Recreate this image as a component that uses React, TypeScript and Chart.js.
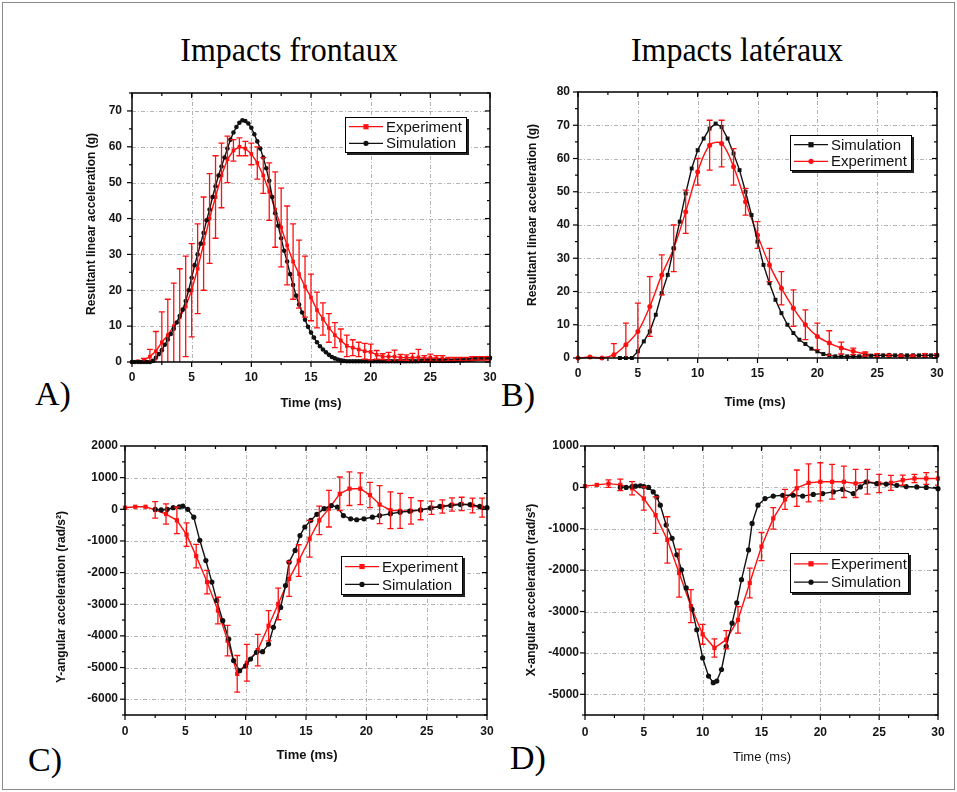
import React, { useEffect, useRef } from "react";
import { Chart, registerables } from "chart.js";
Chart.register(...registerables);

// ---------------- DATA ----------------
const X_TICKS = [0, 5, 10, 15, 20, 25, 30];
const X_MINOR = [2.5, 7.5, 12.5, 17.5, 22.5, 27.5];

const A_Y_TICKS = [0, 10, 20, 30, 40, 50, 60, 70];
const A_Y_MINOR = [5, 15, 25, 35, 45, 55, 65, 75];
const B_Y_TICKS = [0, 10, 20, 30, 40, 50, 60, 70, 80];
const B_Y_MINOR = [5, 15, 25, 35, 45, 55, 65, 75];
const C_Y_TICKS = [-6000, -5000, -4000, -3000, -2000, -1000, 0, 1000, 2000];
const C_Y_MINOR = [-6500, -5500, -4500, -3500, -2500, -1500, -500, 500, 1500];
const D_Y_TICKS = [-5000, -4000, -3000, -2000, -1000, 0, 1000];
const D_Y_MINOR = [-5500, -4500, -3500, -2500, -1500, -500, 500];

// Panel A – frontal, resultant linear acceleration (g)
const SIM_A_T = [0,0.25,0.5,0.75,1,1.25,1.5,1.75,2,2.25,2.5,2.75,3,3.25,3.5,3.75,4,4.25,4.5,4.75,5,5.25,5.5,5.75,6,6.25,6.5,6.75,7,7.25,7.5,7.75,8,8.25,8.5,8.75,9,9.25,9.5,9.75,10,10.25,10.5,10.75,11,11.25,11.5,11.75,12,12.25,12.5,12.75,13,13.25,13.5,13.75,14,14.25,14.5,14.75,15,15.25,15.5,15.75,16,16.25,16.5,16.75,17,17.25,17.5,17.75,18,18.25,18.5,18.75,19,19.25,19.5,19.75,20,20.25,20.5,20.75,21,21.25,21.5,21.75,22,22.25,22.5,22.75,23,23.25,23.5,23.75,24,24.25,24.5,24.75,25,25.25,25.5,25.75,26,26.25,26.5,26.75,27,27.25,27.5,27.75,28,28.25,28.5,28.75,29,29.25,29.5,29.75,30];
const SIM_A_V = [0,0,0,0,0,0,0,0.3,
  1.2,2.2,3.3,4.8,6.3,7.8,9.3,11,12.8,14.6,
  17,20,23.5,27,30,33,36,39.5,42.5,46,
  49,52,54.5,57,59.5,62,64,65.5,66.7,67.4,
  67.2,66.5,65.3,63.5,61.5,59.5,57,54,50.5,46,
  41.5,38,34.5,31,28,24.5,21.5,18.5,16,13.8,
  11.8,9.8,8.2,6.8,5.5,4.4,3.5,2.7,2,1.4,
  1,0.7,0.5,0.3,0.2,
  0.2,0.2,0.2,0.2,0.2,0.2,0.2,0.2,0.2,0.2,0.2,0.2,0.2,0.2,0.2,0.2,0.2,0.2,0.2,0.2,0.2,0.2,0.2,0.2,
  0.3,0.3,0.3,0.3,0.3,0.3,0.3,0.3,0.3,0.3,0.3,0.3,
  0.4,0.5,0.5,0.6,0.6,0.7,0.8,0.9,1.0,1.0,1.1,1.2];
const EXP_A_T = [0,0.5,1,1.5,2,2.5,3,3.5,4,4.5,5,5.5,6,6.5,7,7.5,8,8.5,9,9.5,10,10.5,11,11.5,12,12.5,13,13.5,14,14.5,15,15.5,16,16.5,17,17.5,18,18.5,19,19.5,20,20.5,21,21.5,22,22.5,23,23.5,24,24.5,25,25.5,26,26.5,27,27.5,28,28.5,29,29.5,30];
const EXP_A_V = [0,0.2,0.5,1.5,3,5.5,7.5,10,12.5,15.5,
  20,26,33,40,46,52,56.5,59,60,59.5,
  58,55.5,52,47.5,42.5,37.5,32.5,28,24.5,21,
  18,14.5,12,9.5,7.5,6,4.5,4,3.5,3,
  2.8,2,1.5,1.5,1.5,1.3,1.2,1.2,1.3,1,
  1.2,1,1,0.8,0.8,0.8,0.8,1,1,1,1];
const EXP_A_E = [0,0,0.5,2,5.5,8.5,10,12,13.5,14,
  13,12.5,13,12.5,11.5,9,6.5,3,2.5,2,
  3,4.5,5,8,10.5,11,11,10.5,9.5,8.5,
  6.5,5,4.5,4,3.5,3.2,3,2.2,2,2.2,
  2.2,1.2,0.8,1.2,1.8,0.8,0.8,1.2,2.2,0.8,
  1,0.8,0.8,0.5,0.5,0.5,0.5,0.5,0.5,0.5,0.5];

// Panel B – lateral, resultant linear acceleration (g)
const SIM_B_T = [3.5,4,4.5,5,5.5,6,6.5,7,7.5,8,8.5,9,9.5,10,10.5,11,11.5,12,12.5,13,13.5,14,14.5,15,15.5,16,16.5,17,17.5,18,18.5,19,19.5,20,20.5,21,21.5,22,22.5,23,23.5,24,24.5,25,25.5,26,26.5,27,27.5,28,28.5,29,29.5,30];
const SIM_B_V = [0,0,0,2,5,8,13,19.5,25,33,
  41,49.5,57,62.5,66,69,70.5,69.5,66,61.5,
  56.5,50,43,35,28,22.5,17.5,13.5,10,7.5,
  5.5,4.2,2.8,2,1.2,0.8,0.5,0.5,0.5,0.5,
  0.5,0.6,0.7,0.8,0.8,0.8,0.8,0.8,0.8,0.8,
  0.8,0.8,0.8,0.8];
const EXP_B_T = [0,1,2,3,4,5,6,7,8,9,10,11,12,13,14,15,16,17,18,19,20,21,22,23,24,25,26,27,28,29,30];
const EXP_B_V = [0,0.3,0,1,4,8,15.5,25,33,44,
  56,64,64.5,57.5,47,37,28,21,15,10,
  6.5,4.5,3,2,1.2,0.8,0.8,0.6,0.6,0.8,0.8];
const EXP_B_E = [0,0,0,3.3,6.5,8.5,9,6,7,6.5,
  4,7.5,7,5.5,4,4,5,5,5.5,4.5,
  4,3.7,1.8,1,0.6,0.5,0.3,0.3,0.3,0.5,0.5];

// Panel C – frontal, Y-angular acceleration (rad/s²)
const EXP_C_T = [0,0.85,1.7,2.5,3.4,4.3,5.1,5.9,6.8,7.7,8.5,9.3,10.1,11,11.9,12.7,13.6,14.4,15.3,16.1,16.9,17.8,18.6,19.5,20.3,21.1,22,22.8,23.7,24.5,25.4,26.3,27.1,27.9,28.8,29.6];
const EXP_C_V = [50,80,80,-20,-150,-350,-800,-1480,-2300,-3200,
  -4150,-5200,-4850,-4450,-3680,-2990,-2200,-1620,-930,-350,
  20,490,650,650,450,150,-30,-50,-50,-30,
  50,90,150,170,120,50];
const EXP_C_E = [0,0,0,260,320,420,370,370,370,420,
  480,580,580,500,480,500,550,500,580,450,
  580,530,530,500,400,600,580,550,420,300,
  210,210,210,210,230,300];
const SIM_C_T = [2.5,3,3.5,4,4.5,4.8,5.2,5.7,6.2,6.7,7.2,7.6,8.1,8.6,9,9.5,10,10.4,10.9,11.4,11.9,12.3,12.9,13.3,13.6,14.1,14.5,14.9,15.4,15.9,16.5,17.1,17.6,18.1,18.7,19.2,19.8,20.5,21.1,22,22.8,23.6,24.5,25.3,26.1,27,27.8,28.6,29.4,30];
const SIM_C_V = [0,-20,0,50,80,100,0,-250,-980,-1620,
  -2300,-2880,-3520,-4100,-4780,-5100,-4950,-4730,-4520,-4500,
  -4260,-3730,-3100,-2410,-1670,-1300,-830,-560,-350,-160,
  20,120,70,-200,-300,-330,-300,-250,-200,-140,
  -90,-60,-20,40,90,120,150,150,90,50];

// Panel D – lateral, X-angular acceleration (rad/s²)
const EXP_D_T = [0,1,2,3,4,5,6,7,8,9,10,11,12,13,14,15,16,17,18,19,20,21,22,23,24,25,26,27,28,29,30];
const EXP_D_V = [30,60,90,60,-20,-270,-670,-1270,-2070,-2870,
  -3550,-3880,-3680,-3200,-2310,-1430,-750,-290,-20,110,
  135,135,135,95,135,95,110,175,215,215,215];
const EXP_D_E = [0,0,90,140,160,280,440,560,580,400,
  240,220,220,320,360,340,260,240,440,460,
  460,420,380,340,300,220,180,120,100,140,160];
const SIM_D_T = [3,3.5,4,4.3,4.7,5,5.4,5.8,6.1,6.4,6.9,7.4,7.8,8.2,8.6,9.1,9.5,10,10.5,10.9,11.2,11.6,12,12.5,12.9,13.3,13.9,14.2,14.7,15.3,16,16.8,17.7,18.5,19.4,20.2,21.1,21.9,22.8,23.4,23.9,24.8,25.6,26.5,27.3,28.2,29,30];
const SIM_D_V = [0,0,20,30,40,20,0,-110,-230,-430,
  -910,-1230,-1630,-1990,-2430,-2950,-3440,-4120,-4560,-4720,
  -4680,-4400,-3840,-3280,-2790,-2230,-1510,-870,-430,-270,
  -210,-190,-190,-210,-170,-150,-110,-50,-150,10,
  130,90,80,50,20,10,0,-30];

const TITLE_LEFT = "Impacts frontaux";
const TITLE_RIGHT = "Impacts latéraux";
const X_TITLE = "Time (ms)";
const Y_TITLE_LIN = "Resultant linear acceleration (g)";
const Y_TITLE_C = "Y-angular acceleration (rad/s²)";
const Y_TITLE_D = "X-angular acceleration (rad/s²)";
const EXP = "Experiment";
const SIM = "Simulation";

// ---------------- LAYOUT / STYLE ----------------
const W = 957;
const H = 792;
const YW = 40;
const XH = 30;
const SANS = "'Liberation Sans', Arial, Helvetica, sans-serif";
const SERIF = "'Liberation Serif', 'Times New Roman', Times, serif";
const RED = "#ff1010";
const BLACK = "#111111";

type Series = {
  label: string; t: number[]; v: number[]; err?: number[];
  color: string; style: string; radius: number; tension?: number; order: number;
};
type Panel = {
  key: string;
  area: { l: number; t: number; r: number; b: number };
  yMin: number; yMax: number; yTicks: number[]; yMinor: number[];
  yTitle: string; yTitlePos: [number, number]; xTitlePos: [number, number];
  xTitleBold: boolean;
  yPad: number; xPad: number;
  legend: { x: number; y: number; w: number; h: number; rows: number[] };
  series: Series[];
};

const PANELS: Panel[] = [
  {
    key: "A", area: { l: 132, t: 93, r: 490, b: 362 },
    yMin: 0, yMax: 75, yTicks: A_Y_TICKS, yMinor: A_Y_MINOR,
    yTitle: Y_TITLE_LIN, yTitlePos: [92, 224], xTitlePos: [311, 403], xTitleBold: true, yPad: 10, xPad: 8,
    legend: { x: 345, y: 117, w: 122, h: 36, rows: [0, 1] },
    series: [
      { label: EXP, t: EXP_A_T, v: EXP_A_V, err: EXP_A_E, color: RED, style: "rect", radius: 2.6, order: 1 },
      { label: SIM, t: SIM_A_T, v: SIM_A_V, color: BLACK, style: "circle", radius: 2.3, order: 0 },
    ],
  },
  {
    key: "B", area: { l: 578, t: 92, r: 937, b: 358 },
    yMin: 0, yMax: 80, yTicks: B_Y_TICKS, yMinor: B_Y_MINOR,
    yTitle: Y_TITLE_LIN, yTitlePos: [533, 215], xTitlePos: [755, 402], xTitleBold: true, yPad: 8, xPad: 8,
    legend: { x: 790, y: 135, w: 122, h: 36, rows: [0, 1] },
    series: [
      { label: SIM, t: SIM_B_T, v: SIM_B_V, color: BLACK, style: "rect", radius: 2.8, order: 0 },
      { label: EXP, t: EXP_B_T, v: EXP_B_V, err: EXP_B_E, color: RED, style: "circle", radius: 2.5, tension: 0.35, order: 1 },
    ],
  },
  {
    key: "C", area: { l: 125, t: 446, r: 487, b: 715 },
    yMin: -6500, yMax: 2000, yTicks: C_Y_TICKS, yMinor: C_Y_MINOR,
    yTitle: Y_TITLE_C, yTitlePos: [62, 597], xTitlePos: [307, 755], xTitleBold: true, yPad: 7, xPad: 9,
    legend: { x: 341, y: 556, w: 122, h: 39, rows: [0, 1] },
    series: [
      { label: EXP, t: EXP_C_T, v: EXP_C_V, err: EXP_C_E, color: RED, style: "rect", radius: 3, order: 1 },
      { label: SIM, t: SIM_C_T, v: SIM_C_V, color: BLACK, style: "circle", radius: 2.6, order: 0 },
    ],
  },
  {
    key: "D", area: { l: 585, t: 446, r: 938, b: 715 },
    yMin: -5500, yMax: 1000, yTicks: D_Y_TICKS, yMinor: D_Y_MINOR,
    yTitle: Y_TITLE_D, yTitlePos: [532, 590], xTitlePos: [762, 757], xTitleBold: false, yPad: 6, xPad: 10,
    legend: { x: 790, y: 553, w: 119, h: 40, rows: [0, 1] },
    series: [
      { label: EXP, t: EXP_D_T, v: EXP_D_V, err: EXP_D_E, color: RED, style: "rect", radius: 3, order: 1 },
      { label: SIM, t: SIM_D_T, v: SIM_D_V, color: BLACK, style: "circle", radius: 2.6, order: 0 },
    ],
  },
];

// ---------------- PLUGIN ----------------
function drawMarker(ctx: CanvasRenderingContext2D, style: string, x: number, y: number, r: number, color: string) {
  ctx.fillStyle = color;
  ctx.beginPath();
  if (style === "rect") {
    ctx.rect(x - r, y - r, 2 * r, 2 * r);
  } else {
    ctx.arc(x, y, r, 0, Math.PI * 2);
  }
  ctx.fill();
}

const decoPlugin = {
  id: "deco",
  beforeDatasetsDraw(chart: any) {
    const p: Panel = chart.options.plugins.deco.panel;
    const { ctx, chartArea: a } = chart;
    const xs = chart.scales.x;
    const ys = chart.scales.y;
    ctx.save();
    ctx.strokeStyle = "#b4b4b4";
    ctx.lineWidth = 1;
    ctx.setLineDash([4, 2, 1, 2]);
    for (const v of X_TICKS) {
      const px = Math.round(xs.getPixelForValue(v)) + 0.5;
      if (px <= a.left + 2 || px >= a.right - 2) continue;
      ctx.beginPath(); ctx.moveTo(px, a.top); ctx.lineTo(px, a.bottom); ctx.stroke();
    }
    for (const v of p.yTicks) {
      const py = Math.round(ys.getPixelForValue(v)) + 0.5;
      if (py <= a.top + 2 || py >= a.bottom - 2) continue;
      ctx.beginPath(); ctx.moveTo(a.left, py); ctx.lineTo(a.right, py); ctx.stroke();
    }
    ctx.restore();
  },
  afterDatasetsDraw(chart: any) {
    const p: Panel = chart.options.plugins.deco.panel;
    const { ctx, chartArea: a } = chart;
    const xs = chart.scales.x;
    const ys = chart.scales.y;

    // error bars
    ctx.save();
    ctx.beginPath();
    ctx.rect(a.left, a.top - 3, a.right - a.left, a.bottom - a.top + 3);
    ctx.clip();
    chart.data.datasets.forEach((ds: any, i: number) => {
      if (!ds.errors) return;
      const meta = chart.getDatasetMeta(i);
      ctx.strokeStyle = ds.borderColor;
      ctx.lineWidth = 1.3;
      meta.data.forEach((pt: any, j: number) => {
        const e = ds.errors[j];
        if (!e) return;
        const v = ds.data[j].y;
        const yt = ys.getPixelForValue(v + e);
        const yb = ys.getPixelForValue(v - e);
        const x = pt.x;
        ctx.beginPath();
        ctx.moveTo(x, yt); ctx.lineTo(x, yb);
        ctx.moveTo(x - 3, yt); ctx.lineTo(x + 3, yt);
        ctx.moveTo(x - 3, yb); ctx.lineTo(x + 3, yb);
        ctx.stroke();
      });
    });
    ctx.restore();

    ctx.save();
    // frame
    ctx.strokeStyle = "#000";
    ctx.lineWidth = 1.5;
    ctx.strokeRect(a.left, a.top, a.right - a.left, a.bottom - a.top);
    // ticks
    ctx.lineWidth = 1.2;
    const tick = (x1: number, y1: number, x2: number, y2: number) => {
      ctx.beginPath(); ctx.moveTo(x1, y1); ctx.lineTo(x2, y2); ctx.stroke();
    };
    const xt = (vals: number[], len: number) => vals.forEach((v) => {
      const px = xs.getPixelForValue(v);
      tick(px, a.bottom, px, a.bottom + len);
      tick(px, a.top, px, a.top + len);
    });
    const yt = (vals: number[], len: number) => vals.forEach((v) => {
      const py = ys.getPixelForValue(v);
      tick(a.left, py, a.left - len, py);
      tick(a.right, py, a.right - len, py);
    });
    xt(X_TICKS, 5); xt(X_MINOR, 3);
    yt(p.yTicks, 5); yt(p.yMinor, 3);

    // axis titles
    ctx.fillStyle = "#111";
    ctx.textAlign = "center";
    ctx.textBaseline = "middle";
    ctx.font = `${p.xTitleBold ? "bold " : ""}13px ${SANS}`;
    ctx.fillText(X_TITLE, p.xTitlePos[0], p.xTitlePos[1]);
    ctx.save();
    ctx.translate(p.yTitlePos[0], p.yTitlePos[1]);
    ctx.rotate(-Math.PI / 2);
    ctx.font = `bold 12px ${SANS}`;
    ctx.fillText(p.yTitle, 0, 0);
    ctx.restore();

    // legend box
    const L = p.legend;
    ctx.fillStyle = "#222";
    ctx.fillRect(L.x + 2, L.y + 2, L.w, L.h);
    ctx.fillStyle = "#fff";
    ctx.fillRect(L.x, L.y, L.w, L.h);
    ctx.strokeStyle = "#000";
    ctx.lineWidth = 1;
    ctx.strokeRect(L.x + 0.5, L.y + 0.5, L.w - 1, L.h - 1);
    ctx.font = `15px ${SANS}`;
    ctx.textAlign = "left";
    ctx.textBaseline = "middle";
    L.rows.forEach((di, k) => {
      const ds = chart.data.datasets[di];
      const s = p.series[di];
      const cy = L.y + L.h * (k === 0 ? 0.27 : 0.73);
      ctx.strokeStyle = ds.borderColor;
      ctx.lineWidth = 1.2;
      ctx.beginPath(); ctx.moveTo(L.x + 4, cy); ctx.lineTo(L.x + 38, cy); ctx.stroke();
      drawMarker(ctx, s.style, L.x + 21, cy, 2.6, ds.borderColor);
      ctx.fillStyle = "#111";
      ctx.fillText(ds.label, L.x + 41, cy + 1);
    });
    ctx.restore();
  },
};

function buildConfig(p: Panel): any {
  const a = p.area;
  return {
    type: "line",
    data: {
      datasets: p.series.map((s) => ({
        label: s.label,
        data: s.t.map((x, i) => ({ x, y: s.v[i] })),
        errors: s.err,
        borderColor: s.color,
        backgroundColor: s.color,
        borderWidth: 1.4,
        pointStyle: s.style,
        pointRadius: s.radius,
        pointBorderWidth: 0,
        tension: s.tension || 0,
        order: s.order,
        clip: 6,
        fill: false,
      })),
    },
    options: {
      responsive: false,
      animation: false,
      events: [],
      layout: {
        padding: { left: a.l - YW, top: a.t, right: W - a.r, bottom: H - a.b - XH },
      },
      scales: {
        x: {
          type: "linear", position: "bottom", min: 0, max: 30,
          afterBuildTicks: (s: any) => { s.ticks = X_TICKS.map((v) => ({ value: v })); },
          afterFit: (s: any) => { s.height = XH; },
          grid: { display: false, drawTicks: false },
          border: { display: false },
          ticks: {
            padding: p.xPad, autoSkip: false, maxRotation: 0, color: "#151515",
            font: { family: SANS, size: 12, weight: "bold" },
            callback: (v: any) => String(v),
          },
        },
        y: {
          type: "linear", position: "left", min: p.yMin, max: p.yMax,
          afterBuildTicks: (s: any) => { s.ticks = p.yTicks.map((v) => ({ value: v })); },
          afterFit: (s: any) => { s.width = YW; },
          grid: { display: false, drawTicks: false },
          border: { display: false },
          ticks: {
            padding: p.yPad, autoSkip: false, color: "#151515",
            font: { family: SANS, size: 12, weight: "bold" },
            callback: (v: any) => String(v),
          },
        },
      },
      plugins: {
        legend: { display: false },
        tooltip: { enabled: false },
        deco: { panel: p },
      },
    },
    plugins: [decoPlugin],
  };
}

function PanelChart({ p }: { p: Panel }) {
  const ref = useRef<HTMLCanvasElement | null>(null);
  useEffect(() => {
    if (!ref.current) return;
    const chart = new Chart(ref.current, buildConfig(p));
    return () => chart.destroy();
  }, [p]);
  return (
    <canvas
      ref={ref}
      width={W}
      height={H}
      style={{ position: "absolute", left: 0, top: 0, width: W, height: H }}
    />
  );
}

const textStyle = (left: number, top: number, size: number): React.CSSProperties => ({
  position: "absolute", left, top, fontFamily: SERIF, fontSize: size, lineHeight: `${size}px`,
  color: "#000", whiteSpace: "nowrap",
});

export default function App() {
  return (
    <div style={{ position: "absolute", left: 0, top: 0, width: W, height: H, background: "#fff", overflow: "hidden" }}>
      <div style={{ position: "absolute", left: 2, top: 2, width: W - 6, height: H - 6, border: "1px solid #8a8a8a" }} />
      <div style={{ ...textStyle(139, 33, 34), width: 300, textAlign: "center", transform: "scaleX(0.94)" }}>{TITLE_LEFT}</div>
      <div style={{ ...textStyle(587, 33, 34), width: 300, textAlign: "center", transform: "scaleX(0.94)" }}>{TITLE_RIGHT}</div>
      <div style={textStyle(35, 377, 34)}>A)</div>
      <div style={textStyle(501, 378, 34)}>B)</div>
      <div style={textStyle(28, 743, 34)}>C)</div>
      <div style={textStyle(510, 741, 34)}>D)</div>
      {PANELS.map((p) => (
        <PanelChart key={p.key} p={p} />
      ))}
    </div>
  );
}
